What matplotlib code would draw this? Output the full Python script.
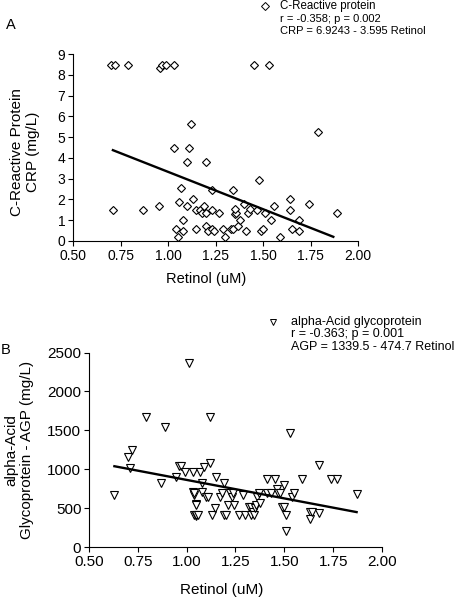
import numpy as np
import matplotlib
matplotlib.use('Agg')
import matplotlib.pyplot as plt

plt.rcParams['font.family'] = ['Liberation Sans', 'DejaVu Sans']

# panel A: retinol vs C-reactive protein
crp_retinol = [0.70, 0.72, 0.79, 0.96, 0.97, 0.99, 1.03, 1.45, 1.53,
               0.71, 0.87, 0.95, 1.03, 1.11, 1.12, 1.10, 1.20, 1.07, 1.06,
               1.10, 1.13, 1.08, 1.08, 1.04, 1.05, 1.15, 1.15, 1.17, 1.18,
               1.19, 1.20, 1.20, 1.21, 1.23, 1.23, 1.23, 1.24, 1.27, 1.29,
               1.30, 1.33, 1.34, 1.34, 1.35, 1.36, 1.35, 1.37, 1.38, 1.40,
               1.41, 1.42, 1.43, 1.47, 1.48, 1.49, 1.50, 1.51, 1.54, 1.56,
               1.59, 1.64, 1.64, 1.65, 1.69, 1.69, 1.74, 1.79, 1.89]
crp_values = [8.49, 8.49, 8.49, 8.32, 8.49, 8.49, 8.49, 8.49, 8.49,
              1.48, 1.48, 1.67, 4.48, 4.48, 5.65, 3.80, 3.80, 2.55, 1.88,
              1.67, 2.00, 1.00, 0.47, 0.58, 0.19, 0.58, 1.48, 1.48, 1.35,
              1.67, 1.35, 0.74, 0.47, 0.58, 1.48, 2.44, 0.50, 1.35, 0.58,
              0.19, 0.58, 0.58, 2.44, 1.30, 1.35, 1.56, 0.74, 1.03, 1.80,
              0.47, 1.35, 1.56, 1.48, 2.92, 0.47, 0.58, 1.35, 1.00, 1.67,
              0.19, 2.00, 1.48, 0.58, 1.00, 0.47, 1.80, 5.25, 1.35]
crp_fit = (6.9243, -3.595)
crp_fit_range = (0.71, 1.87)

# panel B: retinol vs alpha-acid glycoprotein
agp_retinol = [0.63, 0.71, 0.70, 0.72, 0.79, 0.89, 0.87, 0.945, 0.96, 0.97,
               0.99, 1.01, 1.03, 1.03, 1.04, 1.05, 1.04, 1.05,
               1.07, 1.09, 1.12, 1.12, 1.08, 1.04, 1.05, 1.08, 1.10, 1.11,
               1.05, 1.06, 1.13, 1.15, 1.145, 1.17, 1.19, 1.18, 1.19, 1.20,
               1.21, 1.22, 1.23, 1.235, 1.24, 1.27, 1.29, 1.30, 1.32, 1.33,
               1.34, 1.33, 1.345, 1.35, 1.355, 1.36, 1.37, 1.375, 1.41, 1.41,
               1.43, 1.45, 1.46, 1.47, 1.48, 1.50, 1.49, 1.50, 1.51, 1.51,
               1.53, 1.54, 1.55, 1.59, 1.63, 1.63, 1.64, 1.68, 1.68, 1.74,
               1.77, 1.87]
agp_values = [671, 1013, 1162, 1248, 1675, 1539, 829, 906, 1043, 1043,
              970, 2368, 970, 705, 671, 556, 415, 402,
              970, 1034, 1077, 1675, 829, 692, 543, 714, 641, 641,
              415, 415, 415, 906, 509, 641, 829, 701, 415, 415,
              543, 701, 641, 701, 543, 415, 671, 415, 521, 521,
              457, 415, 415, 500, 543, 641, 701, 564, 701, 872,
              701, 872, 744, 701, 701, 799, 521, 521, 415, 209,
              1462, 641, 701, 872, 457, 359, 457, 1056, 436, 872,
              872, 680]
agp_fit = (1339.5, -474.7)
agp_fit_range = (0.63, 1.87)

W, H = 457, 599
fig = plt.figure(figsize=(W / 100, H / 100), dpi=100)


def axes_px(left, right, top, bottom):
    return fig.add_axes([left / W, 1 - bottom / H, (right - left) / W, (bottom - top) / H])


def style(ax, size):
    for s in ['top', 'right']:
        ax.spines[s].set_visible(False)
    for s in ['left', 'bottom']:
        ax.spines[s].set_linewidth(0.8)
    ax.tick_params(direction='out', length=3.5, width=0.8, labelsize=size, pad=2)
    ax.set_xlim(0.5, 2.0)
    ax.set_xticks(np.arange(0.5, 2.01, 0.25))
    ax.set_xticklabels(['%.2f' % t for t in np.arange(0.5, 2.01, 0.25)])


# ---- panel A
axA = axes_px(73, 358, 54, 241)
style(axA, 10)
axA.set_ylim(0, 9)
axA.set_yticks(range(0, 10))
axA.plot(crp_retinol, crp_values, linestyle='none', marker='D', ms=4.2,
         mfc='white', mec='black', mew=0.8, clip_on=False)
xs = np.array(crp_fit_range)
axA.plot(xs, crp_fit[0] + crp_fit[1] * xs, color='black', lw=1.7)

fig.text(11 / W, 1 - 25 / H, 'A', fontsize=10.5, ha='center', va='center')
fig.text(25 / W, 1 - 152 / H, 'C-Reactive Protein\nCRP (mg/L)', rotation=90,
         fontsize=11, ha='center', va='center', linespacing=1.1)
fig.text(206 / W, 1 - 279 / H, 'Retinol (uM)', fontsize=10.5, ha='center', va='center')

fig.lines.append(plt.Line2D([265 / W], [1 - 6 / H], transform=fig.transFigure,
                            marker='D', ms=3.6, mfc='white', mec='black', mew=0.7))
fig.text(280 / W, 1 - 6 / H, 'C-Reactive protein', fontsize=8.3, va='center')
fig.text(280 / W, 1 - 18.5 / H, 'r = -0.358; p = 0.002', fontsize=8, va='center')
fig.text(280 / W, 1 - 30.5 / H, 'CRP = 6.9243 - 3.595 Retinol', fontsize=8, va='center')

# ---- panel B
axB = axes_px(89, 382, 352.5, 547.3)
style(axB, 11)
axB.set_ylim(0, 2500)
axB.set_yticks(range(0, 2501, 500))
axB.plot(agp_retinol, agp_values, linestyle='none', marker='v', ms=5.6,
         mfc='white', mec='black', mew=0.8, clip_on=False)
xs = np.array(agp_fit_range)
axB.plot(xs, agp_fit[0] + agp_fit[1] * xs, color='black', lw=1.7)

fig.text(6 / W, 1 - 350 / H, 'B', fontsize=10.5, ha='center', va='center')
fig.text(19 / W, 1 - 450 / H, 'alpha-Acid\nGlycoprotein - AGP (mg/L)', rotation=90,
         fontsize=11, ha='center', va='center', linespacing=1.2)
fig.text(222 / W, 1 - 590 / H, 'Retinol (uM)', fontsize=11, ha='center', va='center')

fig.lines.append(plt.Line2D([273 / W], [1 - 322 / H], transform=fig.transFigure,
                            marker='v', ms=5, mfc='white', mec='black', mew=0.7))
fig.text(291 / W, 1 - 322 / H, 'alpha-Acid glycoprotein', fontsize=9, va='center')
fig.text(291 / W, 1 - 334.5 / H, 'r = -0.363; p = 0.001', fontsize=9, va='center')
fig.text(291 / W, 1 - 347 / H, 'AGP = 1339.5 - 474.7 Retinol', fontsize=9, va='center')

fig.savefig('out.png', dpi=100)
